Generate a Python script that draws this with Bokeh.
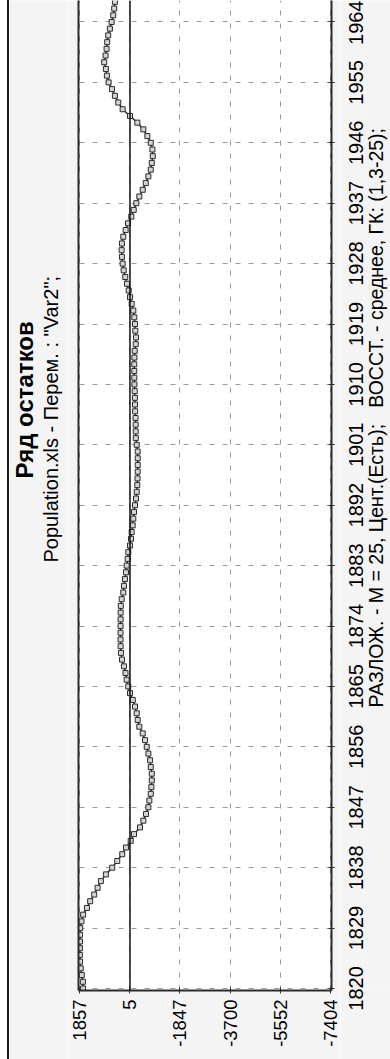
import math

from bokeh.embed import file_html
from bokeh.layouts import row
from bokeh.models import (ColumnDataSource, FixedTicker, Label, LinearAxis,
                          Range1d, Spacer, Span)
from bokeh.plotting import figure
from bokeh.resources import INLINE

# Residual series (one value per year)
years = list(range(1820, 1968))
residuals = [
    1742, 1750, 1790, 1830, 1855, 1860, 1860, 1858, 1855, 1850,   # 1820-1829
    1800, 1740, 1600, 1480, 1330, 1205, 1083, 897, 663, 477,      # 1830-1839
    291, 154, -21, -144, -367, -490, -590, -676, -713, -765,      # 1840-1849
    -787, -802, -802, -765, -739, -676, -616, -553, -468, -341,   # 1850-1859
    -280, -245, -181, -100, 5, 68, 128, 170, 228, 300,            # 1860-1869
    340, 351, 355, 355, 355, 352, 350, 345, 314, 254,             # 1870-1879
    228, 191, 154, 128, 90, 68, 5, -33, -58, -95,                 # 1880-1889
    -118, -144, -181, -218, -245, -265, -275, -280, -282, -282,   # 1890-1899
    -280, -245, -210, -207, -205, -200, -185, -181, -178, -170,   # 1900-1909
    -160, -155, -155, -155, -158, -170, -207, -218, -192, -181,   # 1910-1919
    -155, -118, -58, 5, 53, 116, 180, 239, 277, 302,              # 1920-1929
    314, 302, 254, 165, 79, -44, -133, -230, -341, -468,          # 1930-1939
    -579, -676, -765, -802, -839, -825, -765, -639, -490, -267,   # 1940-1949
    5, 277, 440, 563, 674, 797, 860, 897, 960, 909,               # 1950-1959
    871, 849, 812, 749, 685, 626, 589, 563,                       # 1960-1967
]

value_ticks = [1857, 5, -1847, -3700, -5552, -7404]
value_labels = ["1857", "5", "-1847", "-3700", "-5552", "-7404"]
year_ticks = list(range(1820, 1965, 9))
zero_level = 5

NBSP = "\u00a0"
title_text = "Ряд остатков"
subtitle_text = 'Population.xls - Перем. : "Var2";'
footer_text = ("РАЗЛОЖ. - М = 25, Цент.(Есть);" + NBSP * 3 +
               "ВОССТ. - среднее, ГК: (1,3-25);")

FONT = "Liberation Sans"
INK = "#2b2b2b"
PANEL = "#f4f4f4"
FRAME_H = 990
BOTTOM = 69

src = ColumnDataSource(data=dict(v=residuals, yr=years))
year_range = Range1d(1819.7, 1967.2)


def side_strip(**kw):
    """Grey strip beside the plot that carries rotated text."""
    f = figure(output_backend="svg", toolbar_location=None,
               x_axis_location=None, y_axis_location=None,
               background_fill_color=PANEL, border_fill_color=PANEL,
               outline_line_color=None, min_border=0, **kw)
    f.xgrid.visible = False
    f.ygrid.visible = False
    return f


# ---- left strip: title and subtitle
head = side_strip(frame_width=59, frame_height=1059,
                  x_range=Range1d(0, 1), y_range=Range1d(0, 1))
head.add_layout(Label(x=15, y=581, x_units="screen", y_units="screen",
                      text=title_text, angle=math.pi / 2,
                      text_font=FONT, text_font_style="bold",
                      text_font_size="24px", text_align="left",
                      text_baseline="middle", text_color="black"))
head.add_layout(Label(x=41, y=497, x_units="screen", y_units="screen",
                      text=subtitle_text, angle=math.pi / 2,
                      text_font=FONT, text_font_size="20px",
                      text_align="left", text_baseline="middle",
                      text_color="black"))

# ---- main plot: residuals against year
p = figure(
    frame_width=253, frame_height=FRAME_H,
    x_range=Range1d(1912, -7459), y_range=year_range,
    y_axis_location="right",
    output_backend="svg", toolbar_location=None,
    min_border_left=10, min_border_right=9,
    min_border_top=0, min_border_bottom=BOTTOM,
    background_fill_color="white", border_fill_color=PANEL,
    outline_line_color=None,
)

xa = p.xaxis[0]
xa.ticker = FixedTicker(ticks=value_ticks)
xa.major_label_overrides = dict(zip(value_ticks, value_labels))
xa.major_label_orientation = math.pi / 2
xa.major_label_text_font = FONT
xa.major_label_text_font_size = "18.5px"
xa.major_label_text_color = "black"
xa.major_label_standoff = 6
xa.axis_line_color = INK
xa.axis_line_width = 2
xa.major_tick_in = 3
xa.major_tick_out = 3
xa.major_tick_line_color = INK
xa.minor_tick_line_color = None

# right edge: line and ticks only, the year labels sit in the next strip
ya = p.yaxis[0]
ya.ticker = FixedTicker(ticks=year_ticks)
ya.major_label_text_font_size = "1px"
ya.major_label_text_color = None
ya.major_label_standoff = 0
ya.axis_line_color = INK
ya.axis_line_width = 2
ya.major_tick_in = 3
ya.major_tick_out = 3
ya.major_tick_line_color = INK
ya.minor_tick_line_color = None

edge = LinearAxis(ticker=FixedTicker(ticks=[]), major_label_text_font_size="1px",
                  major_label_text_color=None, major_label_standoff=0,
                  major_tick_line_color=None, minor_tick_line_color=None,
                  axis_line_color=INK, axis_line_width=2)
p.add_layout(edge, "left")

for g, t in ((p.xgrid[0], value_ticks), (p.ygrid[0], year_ticks)):
    g.ticker = FixedTicker(ticks=t)
    g.grid_line_color = "#9a9a9a"
    g.grid_line_dash = "5 8"
    g.grid_line_width = 1

p.add_layout(Span(location=zero_level, dimension="height",
                  line_color="#111111", line_width=1.5))

p.line("v", "yr", source=src, line_color=INK, line_width=1.5)
p.scatter("v", "yr", source=src, marker="square", size=5,
          fill_color="#d4d4d4", line_color=INK, line_width=1)

# ---- right strip: year labels and the decomposition note
tail = side_strip(frame_width=27, frame_height=FRAME_H,
                  x_range=Range1d(0, 1), y_range=year_range)
tail.min_border_left = 23
tail.min_border_bottom = BOTTOM
years_axis = LinearAxis(ticker=FixedTicker(ticks=year_ticks),
                        major_label_orientation="vertical",
                        major_label_text_font=FONT,
                        major_label_text_font_size="20px",
                        major_label_text_color="black",
                        major_label_standoff=0,
                        major_tick_in=0, major_tick_out=0,
                        major_tick_line_color=None,
                        minor_tick_line_color=None,
                        axis_line_color=None)
tail.add_layout(years_axis, "left")
tail.add_layout(Label(x=12, y=283, x_units="screen", y_units="screen",
                      text=footer_text, angle=math.pi / 2,
                      text_font=FONT, text_font_size="19.5px",
                      text_align="left", text_baseline="middle",
                      text_color="black"))

gap = Spacer(width=7, height=1059, styles={"background-color": "white"})
rule = Spacer(width=2, height=1059, styles={"background-color": "#1a1a1a"})
layout = row(gap, rule, head, p, tail, spacing=0)

open("out.html", "w").write(file_html(layout, INLINE))
